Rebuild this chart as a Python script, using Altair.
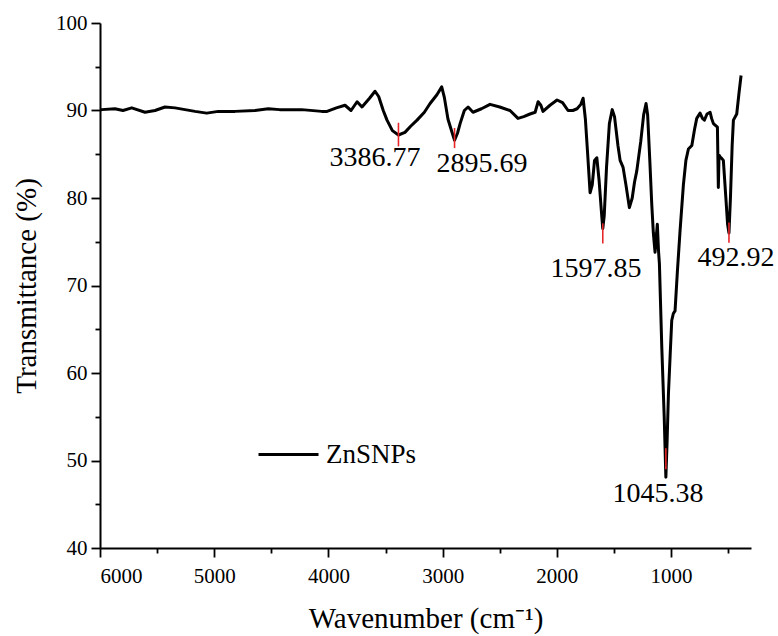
import altair as alt
import pandas as pd

# ---- spectrum data (wavenumber cm-1, transmittance %) ----
wavenumber = [
    6000, 5985, 5869, 5799, 5722, 5606, 5518, 5431, 5343, 5256, 5168, 5066, 4964, 4818,
    4643, 4526, 4427, 4234, 4059, 4012, 3930, 3855, 3802, 3749, 3706, 3640, 3592, 3560,
    3520, 3487, 3440, 3386.77, 3330, 3280, 3224, 3160, 3110, 3050, 3008, 2985, 2953, 2920,
    2895.69, 2870, 2847, 2810, 2777, 2734, 2660, 2585, 2500, 2410, 2340, 2290, 2235, 2190,
    2164, 2140, 2121, 2060, 1998, 1950, 1902, 1860, 1823, 1790, 1770, 1750, 1730, 1709,
    1690, 1670, 1650, 1630, 1610, 1597.85, 1585, 1565, 1540, 1515, 1495, 1465, 1446, 1420,
    1395, 1365, 1340, 1320, 1300, 1265, 1240, 1219, 1205, 1185, 1169, 1155, 1140, 1130,
    1120, 1110, 1102, 1081, 1060, 1045.38, 1035, 1023, 1008, 994, 980, 965, 945, 921,
    892, 870, 848, 818, 795, 775, 746, 725, 708, 685, 658, 645, 629, 594, 586, 580, 571,
    555, 542, 520, 505, 492.92, 480, 465, 454, 425, 405, 387,
]
transmittance = [
    90.1, 90.1, 90.2, 90.0, 90.3, 89.8, 90.0, 90.4, 90.3, 90.1, 89.9, 89.7, 89.9, 89.9,
    90.0, 90.2, 90.1, 90.1, 89.9, 89.9, 90.3, 90.6, 90.0, 91.0, 90.4, 91.4, 92.2, 91.6,
    90.0, 88.9, 87.7, 87.2, 87.5, 88.2, 88.9, 89.8, 90.8, 91.8, 92.7, 91.5, 89.0, 87.6,
    86.6, 87.4, 88.5, 90.0, 90.4, 89.8, 90.2, 90.7, 90.4, 90.0, 89.1, 89.3, 89.6, 89.8,
    91.0, 90.6, 89.9, 90.6, 91.2, 90.9, 90.0, 90.0, 90.2, 90.7, 91.4, 89.0, 85.0, 80.6,
    81.5, 84.3, 84.6, 82.0, 78.5, 76.5, 78.0, 83.5, 88.5, 90.1, 89.3, 86.0, 84.3, 83.5,
    81.5, 78.9, 80.0, 81.8, 83.1, 86.5, 89.5, 90.8, 89.5, 84.0, 79.3, 76.0, 73.8, 75.5,
    77.0, 74.0, 72.5, 62.9, 55.0, 48.1, 52.0, 57.6, 62.0, 66.0, 66.8, 67.1, 71.5, 76.3,
    81.5, 84.3, 85.6, 86.0, 87.8, 89.1, 89.7, 89.1, 88.9, 89.6, 89.8, 89.1, 88.5, 88.1,
    81.2, 84.9, 84.7, 84.5, 84.3, 80.0, 77.0, 76.0, 80.0, 86.0, 88.9, 89.6, 92.0, 94.0,
]

# ---- peak annotations ----
peak_labels = ["3386.77", "2895.69", "1597.85", "1045.38", "492.92"]
peak_wn = [3386.77, 2895.69, 1597.85, 1045.38, 492.92]
peak_tick_top = [88.6, 88.0, 77.1, 51.4, 77.2]
peak_tick_bottom = [85.9, 85.7, 74.8, 49.0, 74.9]
label_wn = [3592, 2655, 1657, 1114, 431]
label_t = [84.6, 83.9, 71.9, 46.2, 73.2]

series_name = "ZnSNPs"

x_major = [6000, 5000, 4000, 3000, 2000, 1000]
x_minor = [5500, 4500, 3500, 2500, 1500, 500]
y_major = [40, 50, 60, 70, 80, 90, 100]
y_minor = [45, 55, 65, 75, 85, 95]

FONT = "Liberation Serif"

spec_df = pd.DataFrame({"wn": wavenumber, "t": transmittance, "series": series_name})
peak_df = pd.DataFrame({"wn": peak_wn, "top": peak_tick_top, "bot": peak_tick_bottom})
label_df = pd.DataFrame({"wn": label_wn, "t": label_t, "label": peak_labels})
minor_df = pd.DataFrame({"wn": [3000.0], "t": [70.0]})

xscale = alt.Scale(domain=[300, 6000], reverse=True, nice=False, zero=False)
yscale = alt.Scale(domain=[40, 100], nice=False, zero=False)

common_axis = dict(grid=False, domainColor="black", domainWidth=2, tickColor="black",
                   tickWidth=1.8, labelFont=FONT, labelFontSize=21, labelColor="black")

line = alt.Chart(spec_df).mark_line(strokeWidth=3, strokeJoin="round").encode(
    x=alt.X("wn:Q", scale=xscale,
            axis=alt.Axis(values=x_major, format="d", orient="bottom",
                          title="Wavenumber (cm⁻¹)", titleFontSize=29,
                          titleFont=FONT, titleFontWeight="normal", titleColor="black",
                          titlePadding=18, labelPadding=8, tickSize=9, **common_axis)),
    y=alt.Y("t:Q", scale=yscale,
            axis=alt.Axis(values=y_major, format="d", orient="left",
                          title="Transmittance (%)", titleFontSize=29,
                          titleFont=FONT, titleFontWeight="normal", titleColor="black",
                          titlePadding=14, labelPadding=4, tickSize=9, **common_axis)),
    color=alt.Color("series:N",
                    scale=alt.Scale(domain=[series_name], range=["black"]),
                    legend=alt.Legend(orient="none", legendX=157, legendY=400,
                                      title=None, symbolType="stroke",
                                      symbolSize=3600, symbolStrokeWidth=3,
                                      labelFont=FONT, labelFontSize=27,
                                      labelColor="black", labelOffset=6,
                                      padding=0)),
    order=alt.Order("wn:Q", sort="descending"),
)

ticks_red = alt.Chart(peak_df).mark_rule(color="#e8262a", strokeWidth=1.6).encode(
    x=alt.X("wn:Q", scale=xscale, axis=None),
    y=alt.Y("top:Q", scale=yscale, axis=None),
    y2="bot:Q",
)

labels = alt.Chart(label_df).mark_text(font=FONT, fontSize=28, color="black",
                                       align="center", baseline="middle").encode(
    x=alt.X("wn:Q", scale=xscale, axis=None),
    y=alt.Y("t:Q", scale=yscale, axis=None),
    text="label:N",
)

minor_axis = dict(labels=False, domain=False, tickSize=5, title=None, grid=False,
                  tickColor="black", tickWidth=1.8)
minor = alt.Chart(minor_df).mark_point(opacity=0).encode(
    x=alt.X("wn:Q", scale=xscale,
            axis=alt.Axis(values=x_minor, orient="bottom", **minor_axis)),
    y=alt.Y("t:Q", scale=yscale,
            axis=alt.Axis(values=y_minor, orient="left", **minor_axis)),
)

chart = alt.layer(line, ticks_red, labels, minor).resolve_axis(
    x="independent", y="independent"
).properties(
    width=651, height=525,
    background="white",
    autosize=alt.AutoSizeParams(type="none"),
    padding={"left": 100, "top": 23, "right": 26, "bottom": 88},
).configure_view(stroke=None)

chart.save("out.html", embed_options={"renderer": "svg", "actions": False})
